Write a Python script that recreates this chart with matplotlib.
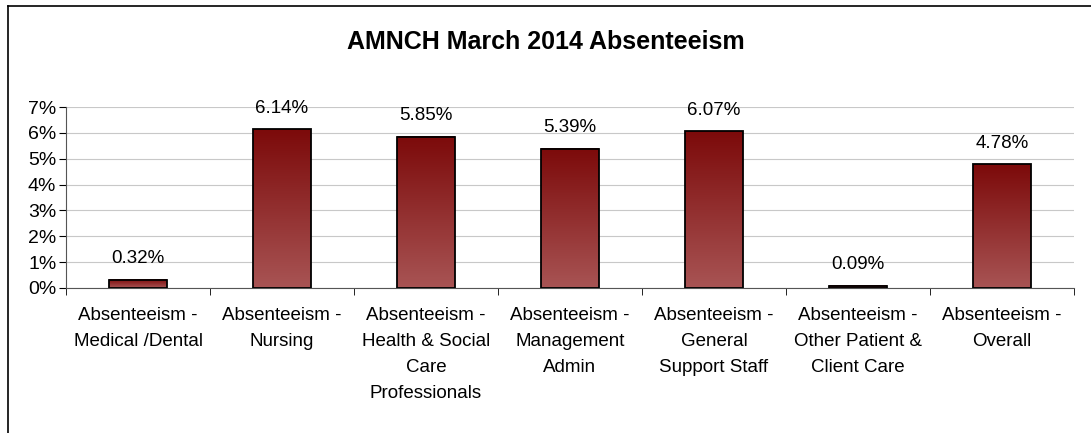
import matplotlib.pyplot as plt
import numpy as np
from matplotlib.colors import LinearSegmentedColormap
from matplotlib.ticker import FuncFormatter

plt.rcParams['font.family'] = ['Liberation Sans', 'DejaVu Sans']

categories = [
    "Absenteeism -\nMedical /Dental",
    "Absenteeism -\nNursing",
    "Absenteeism -\nHealth & Social\nCare\nProfessionals",
    "Absenteeism -\nManagement\nAdmin",
    "Absenteeism -\nGeneral\nSupport Staff",
    "Absenteeism -\nOther Patient &\nClient Care",
    "Absenteeism -\nOverall",
]
values = [0.32, 6.14, 5.85, 5.39, 6.07, 0.09, 4.78]
labels = ["0.32%", "6.14%", "5.85%", "5.39%", "6.07%", "0.09%", "4.78%"]

fig = plt.figure(figsize=(10.91, 4.33), dpi=100)
ax = fig.add_axes([66 / 1091, 1 - 288 / 433, (1074 - 66) / 1091, 181 / 433])

# figure frame (top and left edges only visible in the crop)
fig.add_artist(plt.Line2D([8 / 1091, 1], [1 - 6 / 433, 1 - 6 / 433],
                          transform=fig.transFigure, color='black', lw=1.2))
fig.add_artist(plt.Line2D([8 / 1091, 8 / 1091], [0, 1 - 6 / 433],
                          transform=fig.transFigure, color='black', lw=1.2))

x = np.arange(len(values))
width = 0.4
cmap = LinearSegmentedColormap.from_list('bar', ['#a85454', '#7c0a0a'])
grad = np.linspace(0, 1, 256).reshape(-1, 1)

for xi, v, lab in zip(x, values, labels):
    ax.imshow(grad, cmap=cmap, origin='lower', aspect='auto',
              extent=[xi - width / 2, xi + width / 2, 0, v], zorder=2)
    ax.add_patch(plt.Rectangle((xi - width / 2, 0), width, v, fill=False,
                               edgecolor='black', lw=1.3, zorder=3))
    ax.text(xi, v + 0.48, lab, ha='center', va='bottom', fontsize=13.5)

ax.set_xlim(-0.5, len(values) - 0.5)
ax.set_ylim(0, 7)
ax.set_yticks(range(8))
ax.yaxis.set_major_formatter(FuncFormatter(lambda v, p: f"{int(v)}%"))
ax.grid(axis='y', color='#c8c8c8', lw=0.8, zorder=0)
ax.set_axisbelow(True)

ax.set_xticks(x)
ax.set_xticklabels(categories, fontsize=13.5, linespacing=1.68)
ax.set_xticks(np.arange(-0.5, len(values)), minor=True)
ax.tick_params(axis='x', which='major', length=0, pad=14)
ax.tick_params(axis='x', which='minor', length=5, color='black')
ax.tick_params(axis='y', labelsize=14, length=5, color='black', pad=2)

for s in ['top', 'right']:
    ax.spines[s].set_visible(False)
ax.spines['left'].set_color('#555555')
ax.spines['bottom'].set_color('#555555')

fig.text(0.5, 1 - 42 / 433, "AMNCH March 2014 Absenteeism", ha='center',
         va='center', fontsize=18, fontweight='bold')

fig.savefig('out.png', dpi=100)
